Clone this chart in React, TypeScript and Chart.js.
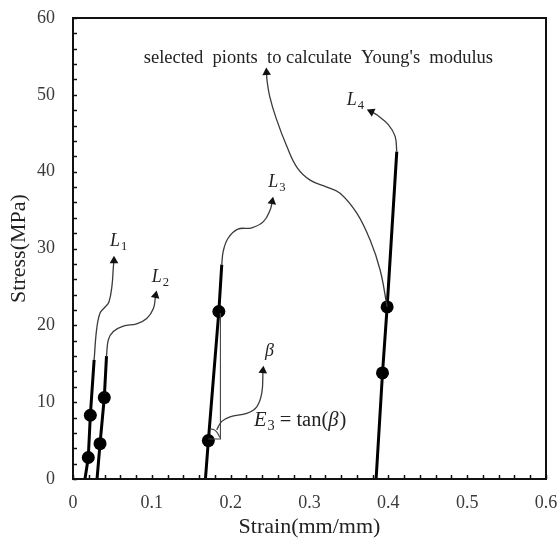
import React, { useEffect, useRef } from 'react';
import { Chart, registerables } from 'chart.js';
Chart.register(...registerables);

// ---- axis ticks ----
const xTickValues = [0, 0.1, 0.2, 0.3, 0.4, 0.5, 0.6];
const xTickLabels = ['0', '0.1', '0.2', '0.3', '0.4', '0.5', '0.6'];
const yTickValues = [0, 10, 20, 30, 40, 50, 60];
const yTickLabels = ['0', '10', '20', '30', '40', '50', '60'];
const xMinorStep = 0.02;
const yMinorStep = 2;

// ---- thick stress-strain lines ----
const l1Strain = [0.0152, 0.0194, 0.022, 0.0268];
const l1Stress = [0, 2.8, 8.3, 15.5];
const l2Strain = [0.0305, 0.0343, 0.0397, 0.0425];
const l2Stress = [0, 4.6, 10.6, 16.0];
const l3Strain = [0.168, 0.1717, 0.185, 0.1887];
const l3Stress = [0, 5.0, 21.8, 27.9];
const l4Strain = [0.3845, 0.3926, 0.3985, 0.4107];
const l4Stress = [0, 13.8, 22.4, 42.6];

// ---- selected points ----
const selStrain = [0.0194, 0.022, 0.0343, 0.0397, 0.1717, 0.185, 0.3926, 0.3985];
const selStress = [2.8, 8.3, 4.6, 10.6, 5.0, 21.8, 13.8, 22.4];

// ---- annotation arrows (thin curves) ----
const a1Strain = [0.0268, 0.03, 0.0343, 0.04, 0.0455, 0.0495, 0.0512, 0.052];
const a1Stress = [15.5, 19.5, 21.6, 22.3, 23.0, 25.2, 27.6, 28.4];
const a2Strain = [0.0425, 0.0448, 0.0511, 0.0638, 0.0808, 0.0935, 0.102, 0.1048];
const a2Stress = [16.0, 18.1, 19.2, 19.9, 20.2, 20.9, 22.2, 23.9];
const a3Strain = [0.1887, 0.1905, 0.1965, 0.2085, 0.2268, 0.2415, 0.25, 0.2527];
const a3Stress = [27.9, 29.6, 31.3, 32.5, 32.7, 33.5, 35.0, 36.1];
const a4Strain = [0.4107, 0.4086, 0.4002, 0.3854, 0.3785];
const a4Stress = [42.6, 44.6, 46.1, 47.4, 47.8];
const aSelStrain = [0.3985, 0.3896, 0.3769, 0.36, 0.3388, 0.322, 0.3008, 0.2845, 0.2712, 0.2575, 0.2495, 0.2462, 0.2455];
const aSelStress = [22.4, 27.2, 31.1, 34.6, 37.2, 38.0, 38.9, 40.5, 43.3, 47.0, 49.8, 51.8, 52.9];
const aBetaStrain = [0.1823, 0.1887, 0.1992, 0.2204, 0.2331, 0.2395, 0.241];
const aBetaStress = [6.4, 7.5, 8.1, 8.55, 9.4, 11.2, 14.1];
const arrowRotations = [0, 12, 10, -65, -3, 5];

// ---- slope triangle and angle arc ----
const triStrain = [0.1717, 0.187, 0.187];
const triStress = [5.2, 5.2, 21.6];
const arcStrain = [0.1743, 0.1785, 0.1825, 0.1864];
const arcStress = [6.5, 6.45, 6.1, 5.4];

// ---- text annotations ----
const noteText = "selected  pionts  to calculate  Young's  modulus";
const noteStrain = 0.3113;
const noteStress = 54.1;
const labelSubs = ['1', '2', '3', '4'];
const labelStrain = [0.047, 0.0999, 0.2478, 0.3473];
const labelStress = [30.3, 25.6, 38.0, 48.7];
const betaStrain = 0.2437;
const betaStress = 16.0;
const eqStrain = 0.2295;
const eqStress = 6.9;

const pts = (xs: number[], ys: number[]) => xs.map((x, i) => ({ x, y: ys[i] }));
const SERIF = '"Liberation Serif", "Times New Roman", serif';

type Seg = { t: string; italic?: boolean; sub?: boolean };
function drawRich(ctx: CanvasRenderingContext2D, segs: Seg[], x: number, y: number, size: number) {
  let cx = x;
  for (const s of segs) {
    const fs = s.sub ? size * 0.7 : size;
    ctx.font = `${s.italic ? 'italic ' : ''}${fs}px ${SERIF}`;
    ctx.textBaseline = 'alphabetic';
    ctx.textAlign = 'left';
    ctx.fillText(s.t, cx, s.sub ? y + size * 0.22 : y);
    cx += ctx.measureText(s.t).width + (s.italic && !s.sub ? 1 : 0);
  }
}

const overlayPlugin = {
  id: 'overlay',
  afterDatasetsDraw(chart: any) {
    const { ctx, chartArea: a, scales } = chart;
    const xs = scales.x;
    const ys = scales.y;
    ctx.save();
    // inward ticks
    ctx.strokeStyle = '#111';
    ctx.lineWidth = 1.5;
    ctx.beginPath();
    const nx = Math.round(0.6 / xMinorStep);
    for (let i = 0; i <= nx; i++) {
      const px = Math.round(xs.getPixelForValue(i * xMinorStep)) + 0.5;
      ctx.moveTo(px, a.bottom);
      ctx.lineTo(px, a.bottom - 4);
    }
    const ny = Math.round(60 / yMinorStep);
    for (let i = 0; i <= ny; i++) {
      const py = Math.round(ys.getPixelForValue(i * yMinorStep)) + 0.5;
      ctx.moveTo(a.left, py);
      ctx.lineTo(a.left + 4, py);
    }
    ctx.stroke();
    // frame
    ctx.lineWidth = 2;
    ctx.strokeStyle = '#111';
    ctx.strokeRect(a.left, a.top, a.right - a.left, a.bottom - a.top);

    // texts
    ctx.fillStyle = '#222';
    ctx.font = `18.5px ${SERIF}`;
    ctx.textAlign = 'center';
    ctx.textBaseline = 'alphabetic';
    ctx.fillText(noteText, xs.getPixelForValue(noteStrain), ys.getPixelForValue(noteStress));

    labelSubs.forEach((s, i) => {
      drawRich(ctx, [{ t: 'L', italic: true }, { t: s, sub: true }],
        xs.getPixelForValue(labelStrain[i]), ys.getPixelForValue(labelStress[i]), 18);
    });
    drawRich(ctx, [{ t: 'β', italic: true }], xs.getPixelForValue(betaStrain), ys.getPixelForValue(betaStress), 18);
    drawRich(ctx, [
      { t: 'E', italic: true }, { t: '3', sub: true }, { t: ' = tan(' }, { t: 'β', italic: true }, { t: ')' },
    ], xs.getPixelForValue(eqStrain), ys.getPixelForValue(eqStress), 20.5);
    ctx.restore();
  },
};

export default function App() {
  const ref = useRef<HTMLCanvasElement>(null);
  useEffect(() => {
    if (!ref.current) return;
    const thin = (xs: number[], ys: number[], rot: number) => {
      const data = pts(xs, ys);
      return {
        data,
        borderColor: '#3a3a3a',
        borderWidth: 1.3,
        tension: 0.4,
        pointStyle: 'triangle',
        pointRadius: data.map((_, i) => (i === data.length - 1 ? 5 : 0)),
        pointRotation: rot,
        pointBackgroundColor: '#111',
        pointBorderColor: '#111',
        pointBorderWidth: 0,
        fill: false,
      };
    };
    const thick = (xs: number[], ys: number[]) => ({
      data: pts(xs, ys),
      borderColor: '#000',
      borderWidth: 3,
      tension: 0,
      pointRadius: 0,
      fill: false,
    });
    const plain = (xs: number[], ys: number[]) => ({
      data: pts(xs, ys),
      borderColor: '#444',
      borderWidth: 1.1,
      tension: 0,
      pointRadius: 0,
      fill: false,
    });
    const noPad = (s: any) => {
      s.paddingLeft = 0;
      s.paddingRight = 0;
      s.paddingTop = 0;
      s.paddingBottom = 0;
    };
    const chart = new Chart(ref.current, {
      type: 'line',
      data: {
        datasets: [
          thin(a1Strain, a1Stress, arrowRotations[0]),
          thin(a2Strain, a2Stress, arrowRotations[1]),
          thin(a3Strain, a3Stress, arrowRotations[2]),
          thin(a4Strain, a4Stress, arrowRotations[3]),
          thin(aSelStrain, aSelStress, arrowRotations[4]),
          thin(aBetaStrain, aBetaStress, arrowRotations[5]),
          plain(triStrain, triStress),
          { ...plain(arcStrain, arcStress), tension: 0.4 },
          thick(l1Strain, l1Stress),
          thick(l2Strain, l2Stress),
          thick(l3Strain, l3Stress),
          thick(l4Strain, l4Stress),
          {
            data: pts(selStrain, selStress),
            showLine: false,
            pointStyle: 'circle',
            pointRadius: 6.5,
            pointBackgroundColor: '#000',
            pointBorderColor: '#000',
            pointBorderWidth: 0,
          },
        ] as any,
      },
      options: {
        responsive: false,
        devicePixelRatio: 1,
        animation: false,
        layout: { padding: { top: 18, right: 12, left: 0, bottom: 0 } },
        plugins: { legend: { display: false }, tooltip: { enabled: false } },
        scales: {
          x: {
            type: 'linear',
            min: 0,
            max: 0.6,
            grid: { display: false, drawTicks: false },
            border: { display: false },
            afterBuildTicks: (s: any) => { s.ticks = xTickValues.map((v) => ({ value: v })); },
            afterFit: (s: any) => { s.height = 66; noPad(s); },
            ticks: {
              padding: 13,
              color: '#3a3a3a',
              font: { family: SERIF, size: 18 },
              callback: (_v: any, i: number) => xTickLabels[i],
              maxRotation: 0,
            },
            title: {
              display: true,
              text: 'Strain(mm/mm)',
              color: '#222',
              font: { family: SERIF, size: 22 },
              padding: { top: 0, bottom: 5 },
            },
          },
          y: {
            type: 'linear',
            min: 0,
            max: 60,
            grid: { display: false, drawTicks: false },
            border: { display: false },
            afterBuildTicks: (s: any) => { s.ticks = yTickValues.map((v) => ({ value: v })); },
            afterFit: (s: any) => { s.width = 73; noPad(s); },
            ticks: {
              padding: 18,
              color: '#3a3a3a',
              font: { family: SERIF, size: 18 },
              callback: (_v: any, i: number) => yTickLabels[i],
            },
            title: {
              display: true,
              text: 'Stress(MPa)',
              color: '#222',
              font: { family: SERIF, size: 22 },
              padding: { top: 6, bottom: 0 },
            },
          },
        },
      } as any,
      plugins: [overlayPlugin],
    });
    return () => chart.destroy();
  }, []);
  return (
    <canvas
      ref={ref}
      width={558}
      height={545}
      style={{ position: 'absolute', left: 0, top: 0, width: 558, height: 545, background: '#fff' }}
    />
  );
}
